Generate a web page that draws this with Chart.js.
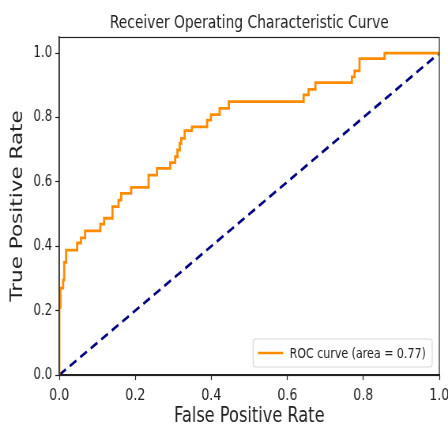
<!DOCTYPE html>
<html>
<head>
<meta charset="utf-8">
<script src="https://cdn.jsdelivr.net/npm/chart.js@4/dist/chart.umd.min.js"></script>
<style>
html,body{margin:0;padding:0;background:#fff;overflow:hidden;}
#outer{width:448px;height:426px;overflow:hidden;position:relative;}
#wrap{width:567px;height:426px;transform:scaleX(0.790123);transform-origin:0 0;}
</style>
</head>
<body>
<div id="outer"><div id="wrap"><canvas id="c" width="567" height="426"></canvas></div></div>
<script>
const titleText = "Receiver Operating Characteristic Curve";
const xTitle = "False Positive Rate";
const yTitle = "True Positive Rate";
const rocLabel = "ROC curve (area = 0.77)";
const fpr = [0,0,0.003,0.003,0.01,0.01,0.013,0.013,0.018,0.018,0.047,0.047,0.057,0.057,0.068,0.068,0.108,0.108,0.118,0.118,0.14,0.14,0.156,0.156,0.163,0.163,0.189,0.189,0.235,0.235,0.257,0.257,0.292,0.292,0.305,0.305,0.311,0.311,0.317,0.317,0.321,0.321,0.33,0.33,0.349,0.349,0.389,0.389,0.399,0.399,0.422,0.422,0.446,0.446,0.643,0.643,0.656,0.656,0.674,0.674,0.77,0.77,0.777,0.777,0.79,0.79,0.856,0.856,1.0];
const tpr = [0,0.21,0.21,0.27,0.27,0.295,0.295,0.35,0.35,0.388,0.388,0.41,0.41,0.426,0.426,0.448,0.448,0.469,0.469,0.487,0.487,0.523,0.523,0.543,0.543,0.564,0.564,0.583,0.583,0.621,0.621,0.642,0.642,0.66,0.66,0.678,0.678,0.699,0.699,0.72,0.72,0.735,0.735,0.759,0.759,0.771,0.771,0.792,0.792,0.809,0.809,0.828,0.828,0.849,0.849,0.87,0.87,0.887,0.887,0.908,0.908,0.926,0.926,0.945,0.945,0.983,0.983,1.0,1.0];
const diagX = [0,1];
const diagY = [0,1];
const tickValues = [0,0.2,0.4,0.6,0.8,1.0];

const font = "'DejaVu Sans', sans-serif";

const frame = {
  id:'frame',
  afterDraw(chart){
    const {ctx, chartArea:a} = chart;
    ctx.save();
    ctx.strokeStyle = '#222';
    ctx.lineWidth = 1.2;
    ctx.strokeRect(a.left, a.top+0.5, a.right-a.left, a.bottom-a.top);
    ctx.restore();
  }
};

const areaTitle = {
  id:'areaTitle',
  afterDraw(chart){
    const {ctx, chartArea:a} = chart;
    ctx.save();
    ctx.font = "17.5px " + font;
    ctx.fillStyle = '#222';
    ctx.textAlign = 'center';
    ctx.textBaseline = 'alphabetic';
    ctx.fillText(titleText, (a.left + a.right)/2, 28);
    ctx.restore();
  }
};

const innerLegend = {
  id:'innerLegend',
  afterDraw(chart){
    const {ctx, chartArea:a} = chart;
    const ds = chart.data.datasets[0];
    ctx.save();
    ctx.font = "14px " + font;
    const tw = ctx.measureText(ds.label).width;
    const w = tw + 54, h = 28;
    const x = a.right - 9 - w, y = a.bottom - 8 - h;
    const r = 3;
    ctx.beginPath();
    ctx.moveTo(x+r,y);ctx.lineTo(x+w-r,y);ctx.quadraticCurveTo(x+w,y,x+w,y+r);
    ctx.lineTo(x+w,y+h-r);ctx.quadraticCurveTo(x+w,y+h,x+w-r,y+h);
    ctx.lineTo(x+r,y+h);ctx.quadraticCurveTo(x,y+h,x,y+h-r);
    ctx.lineTo(x,y+r);ctx.quadraticCurveTo(x,y,x+r,y);ctx.closePath();
    ctx.fillStyle='rgba(255,255,255,0.8)';ctx.fill();
    ctx.strokeStyle='#d8d8d8';ctx.lineWidth=1.2;ctx.stroke();
    ctx.strokeStyle = ds.borderColor; ctx.lineWidth = 2.5;
    ctx.beginPath(); ctx.moveTo(x+6, y+h/2); ctx.lineTo(x+38, y+h/2); ctx.stroke();
    ctx.fillStyle='#222'; ctx.textBaseline='middle'; ctx.textAlign='left';
    ctx.fillText(ds.label, x+46, y+h/2+1);
    ctx.restore();
  }
};

new Chart(document.getElementById('c'), {
  type:'scatter',
  data:{
    datasets:[
      {label: rocLabel, data: fpr.map((v,i)=>({x:v,y:tpr[i]})), showLine:true, borderColor:'#FF8C00', borderWidth:2.8, pointRadius:0, fill:false, tension:0},
      {label: 'diag', data: diagX.map((v,i)=>({x:v,y:diagY[i]})), showLine:true, borderColor:'#000080', borderWidth:2.8, borderDash:[10,6], pointRadius:0, fill:false}
    ]
  },
  options:{
    responsive:false,
    animation:false,
    devicePixelRatio:1,
    layout:{padding:{left:0,right:11,top:37,bottom:0}},
    plugins:{
      legend:{display:false},
      tooltip:{enabled:false},
      title:{display:false}
    },
    scales:{
      x:{type:'linear',min:0,max:1,
        afterBuildTicks(s){s.ticks = tickValues.map(v=>({value:v}));},
        afterFit(s){s.height = 51; s.paddingRight = 0; s.paddingLeft = 0;},
        ticks:{color:'#222',font:{family:font,size:16},padding:6,callback:v=>v.toFixed(1),maxRotation:0},
        grid:{drawOnChartArea:false,drawTicks:true,tickLength:5,color:'#222',tickWidth:1.2},
        border:{display:true,color:'#222',width:1.2},
        title:{display:true,text:xTitle,color:'#222',font:{family:font,size:20.5},padding:{top:0,bottom:-3}}
      },
      y:{type:'linear',min:0,max:1.05,
        afterBuildTicks(s){s.ticks = tickValues.map(v=>({value:v}));},
        afterFit(s){s.width = 75; s.paddingTop = 0; s.paddingBottom = 0;},
        ticks:{color:'#222',font:{family:font,size:15},padding:4,callback:v=>v.toFixed(1)},
        grid:{drawOnChartArea:false,drawTicks:true,tickLength:5,color:'#222',tickWidth:1.2},
        border:{display:true,color:'#222',width:1.4},
        title:{display:true,text:yTitle,color:'#222',font:{family:font,size:21.5},padding:{top:10,bottom:0}}
      }
    }
  },
  plugins:[frame, areaTitle, innerLegend]
});
</script>
</body>
</html>
